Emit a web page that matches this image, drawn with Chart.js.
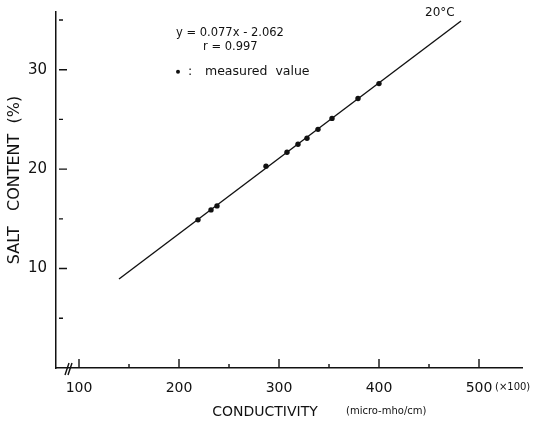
<!DOCTYPE html>
<html>
<head>
<meta charset="utf-8">
<script src="https://cdn.jsdelivr.net/npm/chart.js@4.4.1/dist/chart.umd.min.js"></script>
<style>
html, body { margin: 0; padding: 0; background: #fff; }
</style>
</head>
<body>
<canvas id="chart" width="538" height="422"></canvas>
<script>
// measured values: conductivity (x100 micro-mho/cm) vs salt content (%)
const conductivity = [219, 232, 238, 287, 308, 319, 328, 339, 353, 379, 400];
const saltContent = [14.9, 15.9, 16.3, 20.3, 21.7, 22.5, 23.1, 24.0, 25.1, 27.1, 28.6];
// ends of the regression line as drawn
const fitX = [140, 482];
const fitY = [8.95, 34.9];
const xLabels = [100, 200, 300, 400, 500];
const xMinor = [150, 250, 350, 450];
const yLabels = [10, 20, 30];
const yMinor = [5, 15, 25, 35];

const ink = '#111';
const face = 'DejaVu Sans';

const marks = {
    id: 'marks',
    afterDraw(chart) {
        const c = chart.ctx;
        const xs = chart.scales.x, ys = chart.scales.y;
        const a = chart.chartArea;
        c.save();
        c.strokeStyle = ink;
        c.fillStyle = ink;
        c.lineWidth = 1.4;
        // inward ticks
        c.beginPath();
        yLabels.forEach(v => { const p = ys.getPixelForValue(v); c.moveTo(a.left + 3, p); c.lineTo(a.left + 11, p); });
        yMinor.forEach(v => { const p = ys.getPixelForValue(v); c.moveTo(a.left + 3, p); c.lineTo(a.left + 7, p); });
        xLabels.forEach(v => { const p = xs.getPixelForValue(v); c.moveTo(p, a.bottom); c.lineTo(p, a.bottom - 9); });
        xMinor.forEach(v => { const p = xs.getPixelForValue(v); c.moveTo(p, a.bottom); c.lineTo(p, a.bottom - 4); });
        c.stroke();
        // axis break
        const b = xs.getPixelForValue(88);
        c.beginPath();
        c.moveTo(b - 2, a.bottom + 7); c.lineTo(b + 2, a.bottom - 5);
        c.moveTo(b + 1, a.bottom + 7); c.lineTo(b + 5, a.bottom - 5);
        c.stroke();

        c.textBaseline = 'middle';
        c.textAlign = 'left';
        c.font = '11.5px "' + face + '"';
        c.fillText('y = 0.077x - 2.062', xs.getPixelForValue(197), ys.getPixelForValue(33.7));
        c.fillText('r = 0.997', xs.getPixelForValue(224), ys.getPixelForValue(32.3));
        c.beginPath();
        c.arc(xs.getPixelForValue(199), ys.getPixelForValue(29.8), 2, 0, Math.PI * 2);
        c.fill();
        c.font = '12.5px "' + face + '"';
        c.fillText(':', xs.getPixelForValue(209), ys.getPixelForValue(29.8));
        c.fillText('measured  value', xs.getPixelForValue(226), ys.getPixelForValue(29.8));
        c.font = '12px "' + face + '"';
        c.fillText('20\u00b0C', xs.getPixelForValue(446), ys.getPixelForValue(35.7));

        // axis titles
        c.font = '14px "' + face + '"';
        c.textAlign = 'center';
        c.fillText('CONDUCTIVITY', 265, 412);
        c.font = '10px "' + face + '"';
        c.textAlign = 'left';
        c.fillText('(micro-mho/cm)', 346, 411);
        c.fillText('(\u00d7100)', 495, 387);
        c.translate(15, 180);
        c.rotate(-Math.PI / 2);
        c.textAlign = 'center';
        c.font = '16px "' + face + '"';
        c.fillText('SALT   CONTENT  (%)', 0, 0);
        c.restore();
    }
};

const ctx = document.getElementById('chart');
const mainChart = new Chart(ctx, {
    type: 'scatter',
    data: {
        datasets: [
            {
                label: 'measured value',
                data: conductivity.map((v, i) => ({x: v, y: saltContent[i]})),
                backgroundColor: ink,
                borderColor: ink,
                pointRadius: 2.7,
                pointBorderWidth: 0,
            },
            {
                label: 'fit',
                data: fitX.map((v, i) => ({x: v, y: fitY[i]})),
                showLine: true,
                borderColor: ink,
                borderWidth: 1.4,
                pointRadius: 0,
                fill: false,
            }
        ]
    },
    options: {
        responsive: false,
        animation: false,
        layout: {padding: {top: 12, right: 16, left: 0, bottom: 0}},
        plugins: {
            legend: {display: false},
            tooltip: {enabled: false}
        },
        scales: {
            x: {
                type: 'linear',
                min: 77,
                max: 543,
                afterFit(s) { s.height = 54; s.paddingLeft = 0; s.paddingRight = 0; },
                grid: {display: false, drawTicks: false},
                border: {display: true, color: ink, width: 1.5},
                ticks: {
                    stepSize: 100,
                    includeBounds: false,
                    padding: 12,
                    color: ink,
                    maxRotation: 0,
                    autoSkip: false,
                    font: {family: face, size: 14},
                    callback: v => xLabels.includes(v) ? String(v) : ''
                }
            },
            y: {
                type: 'linear',
                min: 0,
                max: 35.8,
                afterFit(s) { s.width = 56; s.paddingTop = 0; s.paddingBottom = 0; },
                grid: {display: false, drawTicks: false},
                border: {display: true, color: ink, width: 1.5},
                ticks: {
                    stepSize: 10,
                    includeBounds: false,
                    padding: 9,
                    color: ink,
                    autoSkip: false,
                    font: {family: face, size: 15},
                    callback: v => yLabels.includes(v) ? String(v) : ''
                }
            }
        }
    },
    plugins: [marks]
});
</script>
</body>
</html>
